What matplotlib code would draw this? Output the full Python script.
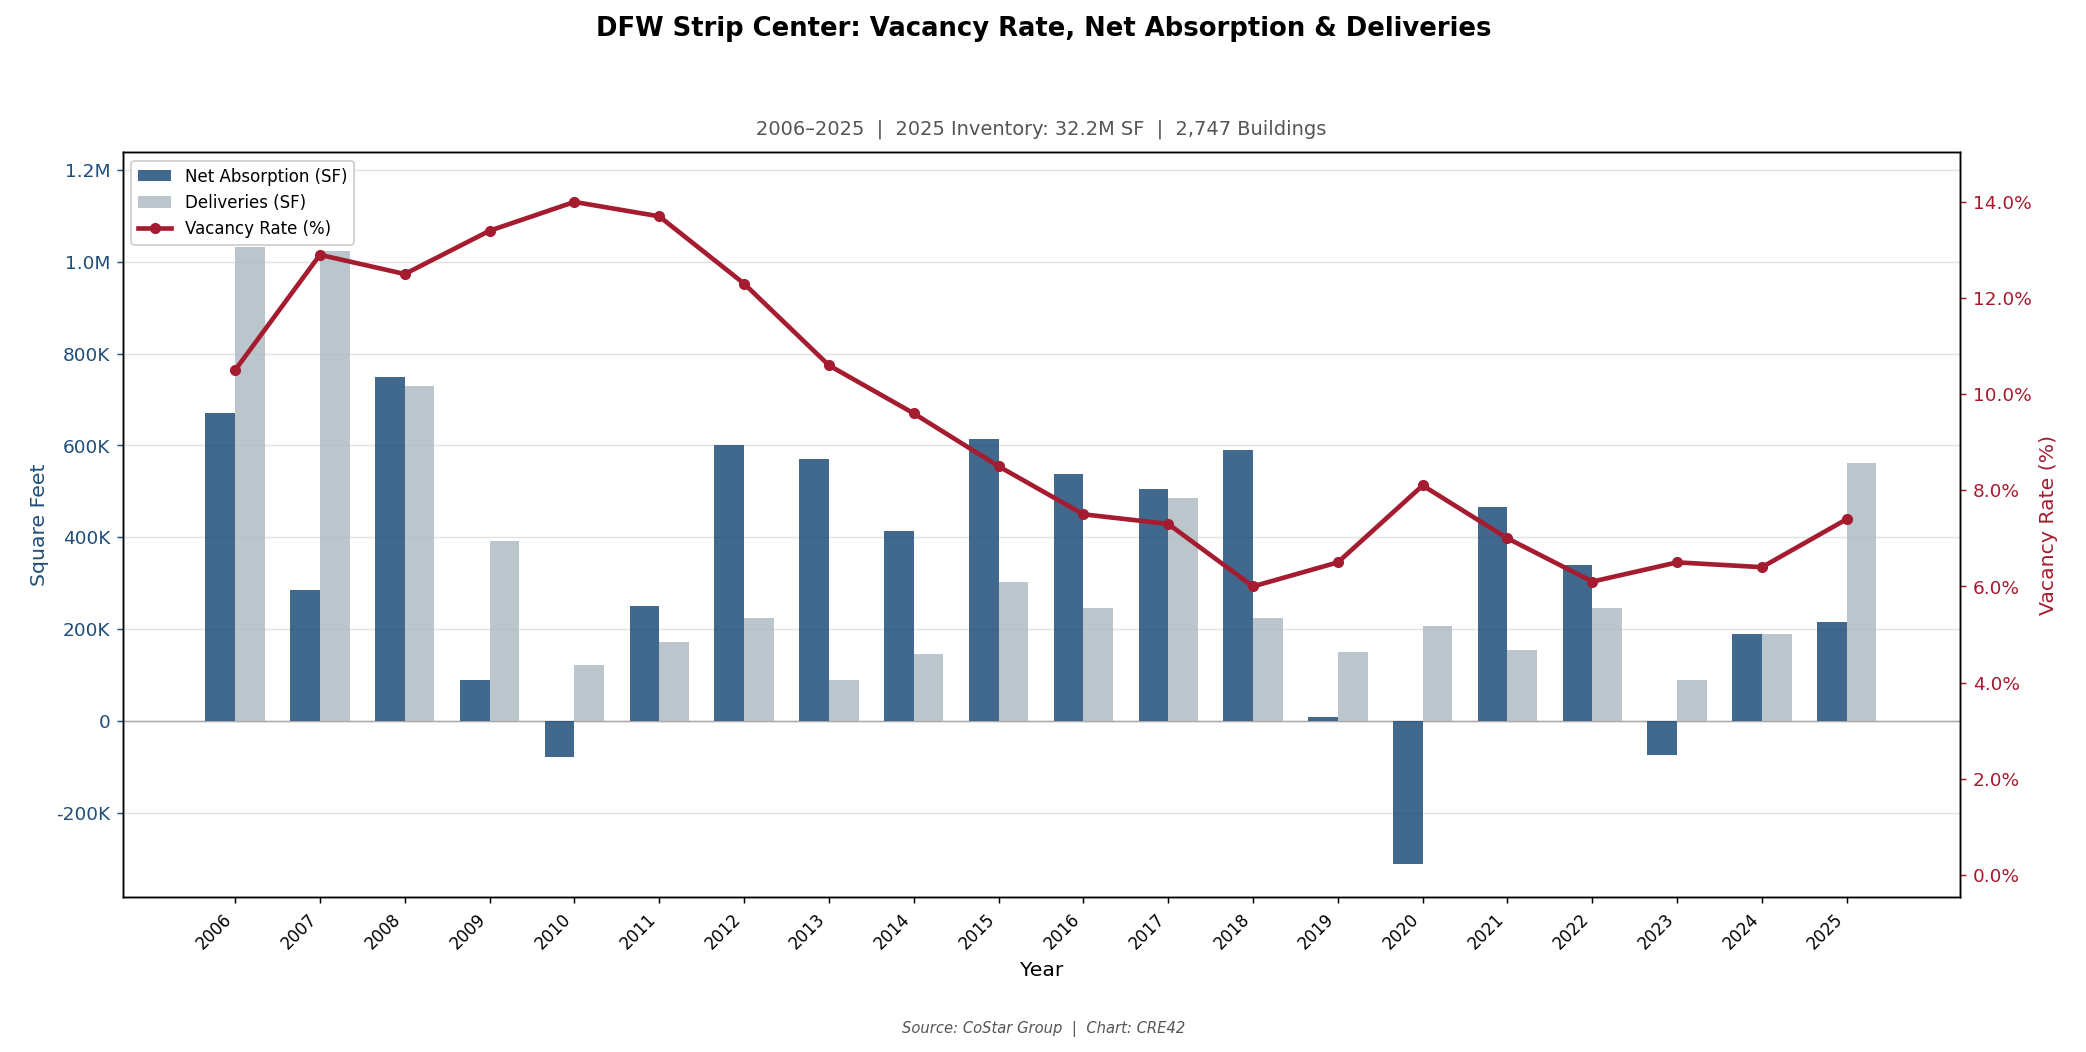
import numpy as np
from matplotlib import pyplot as plt
from matplotlib.ticker import FuncFormatter

years = list(range(2006, 2026))
net_absorption = [670, 285, 750, 90, -78, 250, 600, 570, 413, 613,
                  538, 506, 590, 9, -311, 465, 340, -73, 189, 215]
deliveries = [1032, 1023, 730, 392, 122, 172, 224, 90, 145, 302,
              247, 485, 224, 151, 206, 154, 247, 90, 189, 561]
vacancy = [10.5, 12.9, 12.5, 13.4, 14.0, 13.7, 12.3, 10.6, 9.6, 8.5,
           7.5, 7.3, 6.0, 6.5, 8.1, 7.0, 6.1, 6.5, 6.4, 7.4]

NAVY = '#1f4e79'
GREY = '#b0bcc4'
RED = '#a51c30'


def sf_fmt(v, _):
    if v == 0:
        return '0'
    if abs(v) >= 1e6:
        return f'{v / 1e6:.1f}M'
    return f'{v / 1e3:.0f}K'


fig, ax = plt.subplots(figsize=(15.65, 7.89), dpi=133.35)
x = np.arange(len(years))
w = 0.35
ax.bar(x - w / 2, np.array(net_absorption) * 1000, w, color=NAVY, alpha=0.85,
       label='Net Absorption (SF)', zorder=2)
ax.bar(x + w / 2, np.array(deliveries) * 1000, w, color=GREY, alpha=0.85,
       label='Deliveries (SF)', zorder=2)
ax.axhline(0, color='#aaaaaa', lw=0.8, zorder=1)
ax.set_ylim(-384000, 1238000)
ax.set_xlim(-1.32, len(years) - 1 + 1.33)
ax.yaxis.set_major_formatter(FuncFormatter(sf_fmt))
ax.tick_params(axis='y', colors=NAVY, labelsize=10)
ax.set_ylabel('Square Feet', color=NAVY, fontsize=11)
ax.set_xticks(x)
ax.set_xticklabels(years, rotation=45, ha='right', fontsize=9)
ax.set_xlabel('Year', fontsize=11)
ax.grid(axis='y', color='#e3e3e3', lw=0.8, zorder=0)
ax.set_axisbelow(True)

ax2 = ax.twinx()
ax2.plot(x, vacancy, color=RED, lw=2.5, marker='o', markersize=5,
         label='Vacancy Rate (%)', zorder=3)
ax2.set_ylim(-0.47, 15.03)
ax2.set_yticks(np.arange(0, 15, 2))
ax2.yaxis.set_major_formatter(FuncFormatter(lambda v, _: f'{v:.1f}%'))
ax2.tick_params(axis='y', colors=RED, labelsize=10)
ax2.set_ylabel('Vacancy Rate (%)', color=RED, fontsize=11)

h1, l1 = ax.get_legend_handles_labels()
h2, l2 = ax2.get_legend_handles_labels()
ax.legend(h1 + h2, l1 + l2, loc='upper left', fontsize=9, framealpha=0.9)

fig.suptitle('DFW Strip Center: Vacancy Rate, Net Absorption & Deliveries',
             fontsize=14, fontweight='bold', y=0.985)
ax.set_title('2006–2025  |  2025 Inventory: 32.2M SF  |  2,747 Buildings',
             fontsize=10.5, color='#555555', pad=10)
fig.text(0.5, 0.018, 'Source: CoStar Group  |  Chart: CRE42', ha='center',
         fontsize=8, style='italic', color='#555555')
fig.subplots_adjust(left=0.059, right=0.939, top=0.855, bottom=0.147)
fig.savefig('out.png')
